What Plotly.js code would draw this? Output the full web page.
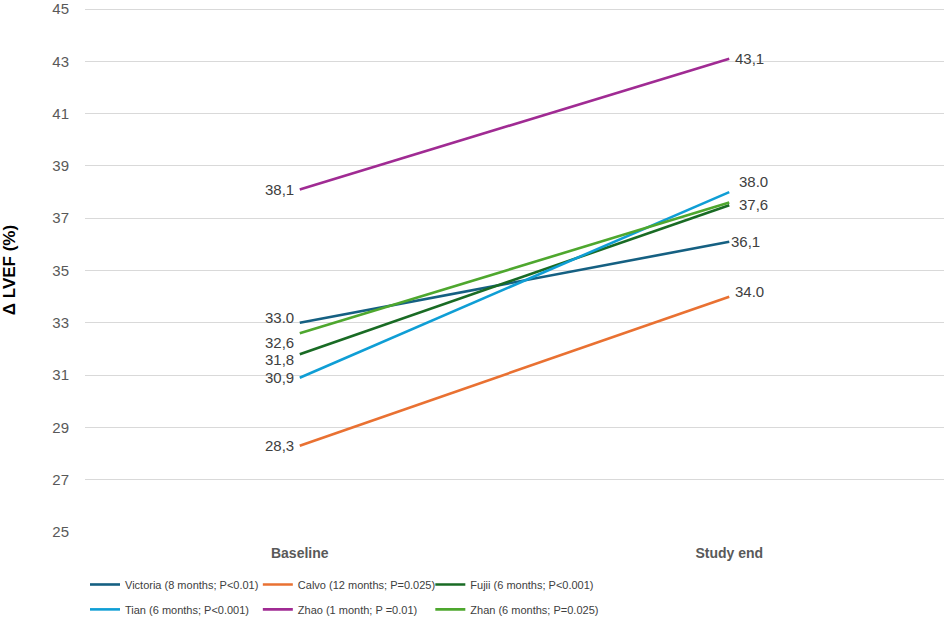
<!DOCTYPE html>
<html>
<head>
<meta charset="utf-8">
<script src="https://cdn.plot.ly/plotly-3.0.1.min.js"></script>
<style>html,body{margin:0;padding:0;background:#fff;}#chart{width:944px;height:622px;}</style>
</head>
<body>
<div id="chart"></div>
<script>
const categories = ["Baseline", "Study end"];
const seriesNames = [
  "Victoria (8 months; P<0.01)",
  "Calvo (12 months; P=0.025)",
  "Fujii (6 months; P<0.001)",
  "Tian (6 months; P<0.001)",
  "Zhao (1 month; P =0.01)",
  "Zhan (6 months; P=0.025)"
];
const baselineValues = [33.0, 28.3, 31.8, 30.9, 38.1, 32.6];
const studyEndValues = [36.1, 34.0, 37.5, 38.0, 43.1, 37.6];
const baselineLabels = ["33.0", "28,3", "31,8", "30,9", "38,1", "32,6"];
const studyEndLabels = ["36,1", "34.0", "", "38.0", "43,1", "37,6"];
const yTickValues = [25, 27, 29, 31, 33, 35, 37, 39, 41, 43, 45];

const colors = ["#156082", "#E97132", "#196B24", "#0F9ED5", "#A02B93", "#4EA72E"];
// label offsets (px)
const baseYShift = [5, 0, -5, 0, 0, -9];
const endXShift = [0, 4, 0, 8, 4, 8];
const endYShift = [0, 5, 0, 11, 0, -2];
// legend grid placement (paper coords)
const legendCols = [0.0, 0.2012, 0.402];
const legendRows = [-0.0725, -0.120];

const traces = seriesNames.map((name, i) => ({
  type: "scatter",
  mode: "lines",
  name: name,
  legend: i === 0 ? "legend" : "legend" + (i + 1),
  x: categories,
  y: [baselineValues[i], studyEndValues[i]],
  line: {color: colors[i], width: 2.6},
  hoverinfo: "skip"
}));

const labelFont = {family: "Liberation Sans, Arial, sans-serif", size: 15, color: "#404040"};
const annotations = [];
seriesNames.forEach((name, i) => {
  annotations.push({
    x: categories[0], y: baselineValues[i], xref: "x", yref: "y",
    text: baselineLabels[i], showarrow: false,
    xanchor: "right", yanchor: "middle", xshift: -4, yshift: baseYShift[i],
    font: labelFont
  });
  if (studyEndLabels[i]) {
    annotations.push({
      x: categories[1], y: studyEndValues[i], xref: "x", yref: "y",
      text: studyEndLabels[i], showarrow: false,
      xanchor: "left", yanchor: "middle", xshift: endXShift[i], yshift: endYShift[i],
      font: labelFont
    });
  }
});

const layout = {
  width: 944, height: 622,
  margin: {l: 85, r: 0, t: 8, b: 90, autoexpand: false},
  paper_bgcolor: "#ffffff", plot_bgcolor: "#ffffff",
  showlegend: true,
  xaxis: {
    type: "category", range: [-0.5, 1.5],
    showgrid: false, zeroline: false, showline: false,
    ticks: "outside", ticklen: 8, tickcolor: "rgba(0,0,0,0)",
    tickfont: {family: "Liberation Sans, Arial, sans-serif", size: 14, color: "#595959", weight: "bold"}
  },
  yaxis: {
    range: [25, 45.04], tickvals: yTickValues,
    showgrid: true, gridcolor: "#d9d9d9", gridwidth: 1,
    zeroline: false, showline: false,
    ticks: "outside", ticklen: 12, tickcolor: "rgba(0,0,0,0)",
    ticklabeloverflow: "allow",
    tickfont: {family: "Liberation Sans, Arial, sans-serif", size: 15, color: "#595959"},
    title: {text: "Δ LVEF (%)", standoff: 34,
      font: {family: "Liberation Sans, Arial, sans-serif", size: 17, color: "#000000", weight: "bold"}}
  },
  annotations: annotations
};

seriesNames.forEach((name, i) => {
  const key = i === 0 ? "legend" : "legend" + (i + 1);
  layout[key] = {
    orientation: "h", xanchor: "left", yanchor: "top",
    x: legendCols[i % 3], y: legendRows[Math.floor(i / 3)],
    itemwidth: 30,
    font: {family: "Liberation Sans, Arial, sans-serif", size: 11, color: "#404040"},
    bgcolor: "rgba(0,0,0,0)"
  };
});

Plotly.newPlot("chart", traces, layout, {displayModeBar: false, staticPlot: true});
</script>
</body>
</html>
